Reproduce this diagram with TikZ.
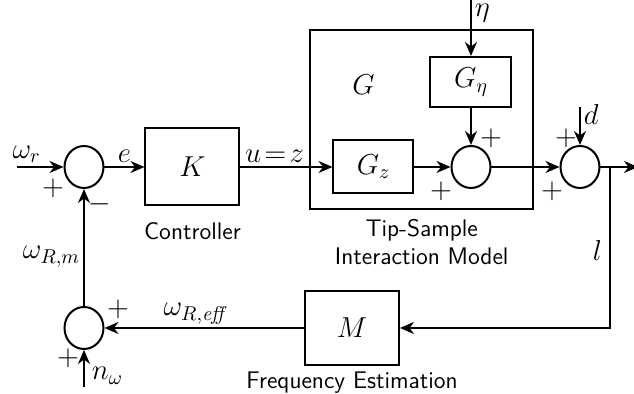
\documentclass[tikz,border=0pt]{standalone}
\usepackage{tikz}
\usetikzlibrary{shapes.geometric, arrows.meta, positioning, fit, calc}
\tikzset{
  blk/.style={
    rectangle, draw=black, line width=1pt,
    minimum width=47pt, minimum height=38.5pt,
    font=\Large, inner sep=2pt
  },
  sumnode/.style={
    ellipse, draw=black, line width=1pt,
    minimum width=19.5pt, minimum height=21pt, inner sep=0pt
  },
  capt/.style={font=\large\sffamily, align=center, inner sep=2pt},
  lbl/.style={font=\Large, inner sep=1.5pt},
  sgn/.style={font=\Large, inner sep=0pt},
  arr/.style={-{Stealth[length=7pt, width=6pt]}, line width=1pt},
}

\begin{document}
\begin{tikzpicture}
        \useasboundingbox (-42pt,-113.5pt) rectangle (275pt,83.5pt);
        \node[sumnode] (s1) {};
        \node[blk, right=20pt of s1] (k) {$K$};
        \node[blk, minimum width=40pt, minimum height=26.5pt, right=46pt of k] (gz) {$G_z$};
        \node[sumnode, right=18pt of gz] (s2) {};
        \node[blk, minimum width=40.5pt, minimum height=25pt, above=18.5pt of s2] (geta) {$G_\eta$};
        \node[sumnode, right=34pt of s2] (s3) {};
        \node[sumnode, below=58.5pt of s1] (s4) {};
        \node[blk, minimum height=37pt, right=99.75pt of s4] (m) {$M$};
        \coordinate (gnw) at ($(gz.west |- geta.north)+(-11pt,13pt)$);
        \coordinate (gse) at ($(s2.east |- gz.south)+(20.75pt,-7.5pt)$);
        \node[draw, line width=1pt, inner sep=0pt, fit=(gnw)(gse)] (g) {};
        \node[lbl] (glab) at ($(g.north west)+(27pt,-28pt)$) {$G$};
        \node[capt, below=6pt of k] (kcap) {Controller};
        \node[capt, below=2pt of g] (gcap) {Tip-Sample\\Interaction Model};
        \node[capt, below=1pt of m] (mcap) {Frequency Estimation};
        \coordinate[left=23pt of s1] (wr);
        \coordinate[above=29pt of geta] (etain);
        \coordinate[above=19pt of s3] (din);
        \coordinate[right=4.75pt of s3] (br);
        \coordinate[right=18.75pt of s3] (out);
        \coordinate[below=18.5pt of s4] (nin);
        \draw[arr] (wr) -- node[lbl, pos=0.2, above] {$\omega_r$} (s1);
        \draw[arr] (s1) -- node[lbl, above] {$e$} (k);
        \draw[arr] (k) -- node[lbl, pos=0.37, above] {$u\!=\!z$} (gz);
        \draw[arr] (gz) -- (s2); \draw[arr] (geta) -- (s2);
        \draw[arr] (etain) -- node[lbl, pos=0, anchor=north west, inner sep=0.5pt, xshift=1pt, yshift=-2pt] {$\eta$} (geta);
        \draw[arr] (s2) -- (s3);
        \draw[arr] (din) -- node[lbl, pos=0.2, right] {$d$} (s3);
        \draw[arr] (s3) -- (out);
        \draw[arr] (br) |- node[lbl, pos=0.26, left, xshift=-2pt] {$l$} (m);
        \draw[arr] (m) -- node[lbl, pos=0.54, above] {$\omega_{R,\mathit{eff}}$} (s4);
        \draw[arr] (s4) -- node[lbl, pos=0.42, left] {$\omega_{R,m}$} (s1);
        \draw[arr] (nin) -- node[lbl, pos=0.3, right, xshift=2pt] {$n_\omega$} (s4);
        \node[sgn] at ($(s1)+(-15.5pt,-10.5pt)$) {$+$};
        \node[sgn] at ($(s1)+(8pt,-18.5pt)$) {$-$};
        \node[sgn] at ($(s2)+(10pt,14.5pt)$) {$+$};
        \node[sgn] at ($(s2)+(-15pt,-12pt)$) {$+$};
        \node[sgn] at ($(s3)+(-7pt,14.5pt)$) {$+$};
        \node[sgn] at ($(s3)+(-14pt,-12pt)$) {$+$};
        \node[sgn] at ($(s4)+(17pt,9.5pt)$) {$+$};
        \node[sgn] at ($(s4)+(-8pt,-15pt)$) {$+$};
      \end{tikzpicture}
\end{document}
